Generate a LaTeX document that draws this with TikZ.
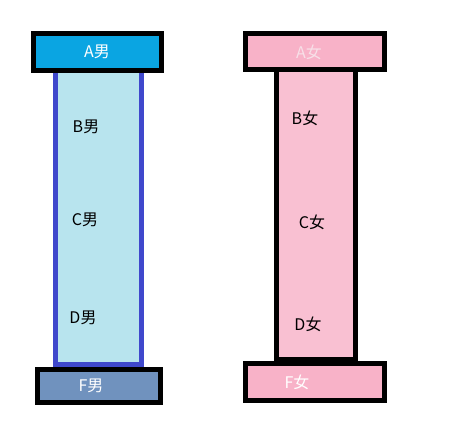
\documentclass[tikz,border=0pt]{standalone}
\usepackage{fontspec}
\newfontfamily\cjk{Noto Sans CJK SC}
\definecolor{capblue}{HTML}{0AA5E2}
\definecolor{colcyan}{HTML}{B8E4EE}
\definecolor{colborder}{HTML}{3F48CC}
\definecolor{capgrey}{HTML}{7092BE}
\definecolor{pinkcap}{HTML}{F8B2C8}
\definecolor{pinkcol}{HTML}{F9C0D2}
\definecolor{pinktext}{HTML}{F7E0E8}
\tikzset{
  capbox/.style={draw=black, line width=5pt},
  colbox/.style={line width=4.5pt},
  lbl/.style={font=\cjk\fontsize{16}{18}\selectfont, inner sep=0pt},
}
\begin{document}
\begin{tikzpicture}[x=1pt,y=-1pt]
\useasboundingbox[fill=white] (0,0) rectangle (458,422);
% left pillar
\draw[colbox, draw=colborder, fill=colcyan] (55.5,70) rectangle (141.5,364.5);
\draw[capbox, fill=capblue] (33.5,33.5) rectangle (161.5,70.5);
\draw[capbox, fill=capgrey] (37.5,369.5) rectangle (160.5,402.5);
% right pillar
\draw[colbox, draw=black, fill=pinkcol] (276.5,70) rectangle (355.5,359);
\draw[capbox, fill=pinkcap] (245.5,33.5) rectangle (384.5,69.5);
\draw[capbox, fill=pinkcap] (245.5,363.5) rectangle (384.5,400.5);
% labels
\node[lbl, text=white] (am) at (97,52) {A男};
\node[lbl] (bm) at (86,127) {B男};
\node[lbl] (cm) at (85,220) {C男};
\node[lbl] (dm) at (83,318) {D男};
\node[lbl, text=white] (fm) at (91,386) {F男};
\node[lbl, text=pinktext] (af) at (309,52) {A女};
\node[lbl] (bf) at (305,118) {B女};
\node[lbl] (cf) at (312,222) {C女};
\node[lbl] (df) at (308,324) {D女};
\node[lbl, text=white] (ff) at (297,382) {F女};
\end{tikzpicture}
\end{document}
